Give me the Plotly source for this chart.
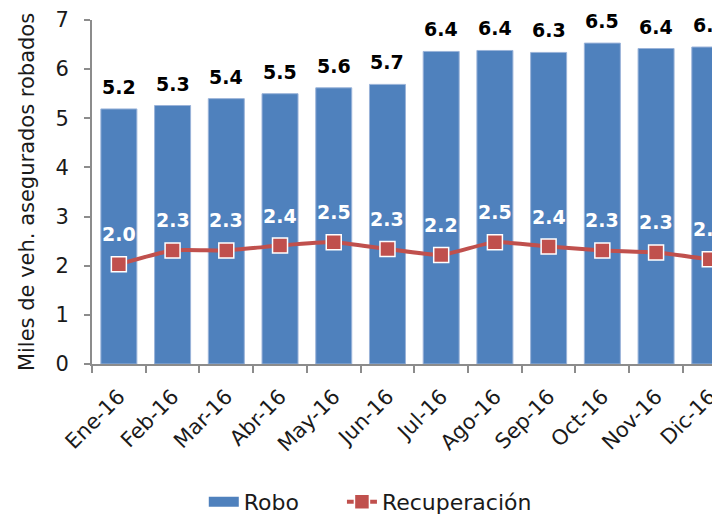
import plotly.graph_objects as go

categories = ["Ene-16", "Feb-16", "Mar-16", "Abr-16", "May-16", "Jun-16",
              "Jul-16", "Ago-16", "Sep-16", "Oct-16", "Nov-16", "Dic-16"]
robo = [5.19, 5.26, 5.40, 5.50, 5.62, 5.69, 6.36, 6.38, 6.34, 6.53, 6.42, 6.45]
recuperacion = [2.03, 2.31, 2.31, 2.41, 2.48, 2.34, 2.22, 2.48, 2.39, 2.31, 2.27, 2.13]

FONT = "DejaVu Sans"
BLUE = "#4F81BD"
RED = "#C0504D"
AXIS = "#8c8c8c"
TXT = "#1a1a1a"

fig = go.Figure()
fig.add_trace(go.Bar(
    x=categories, y=robo, name="Robo", legendgroup="robo", showlegend=False,
    marker=dict(color=BLUE, line=dict(color="#9ab3d9", width=1)),
))
# legend swatch for Robo (wide rectangle, like the reference)
fig.add_trace(go.Scatter(
    x=[None], y=[None], name="Robo", legendgroup="robo", mode="lines",
    line=dict(color=BLUE, width=13), legend="legend",
))
fig.add_trace(go.Scatter(
    x=categories, y=recuperacion, name="Recuperación",
    mode="lines+markers",
    line=dict(color=RED, width=4, shape="spline", smoothing=0.5),
    marker=dict(symbol="square", size=15, color=RED, line=dict(color="white", width=1.5)),
    cliponaxis=False, legend="legend2",
))

annotations = []
for c, v in zip(categories, robo):
    annotations.append(dict(x=c, y=v, text=f"<b>{v:.1f}</b>", showarrow=False,
                            yshift=22, font=dict(family=FONT, size=19, color="black")))
for c, v in zip(categories, recuperacion):
    annotations.append(dict(x=c, y=v, text=f"<b>{v:.1f}</b>", showarrow=False,
                            yshift=30, font=dict(family=FONT, size=19, color="white")))

legend_style = dict(orientation="h", xanchor="left", y=-0.401, yanchor="middle",
                    font=dict(family=FONT, size=22, color=TXT), bgcolor="rgba(0,0,0,0)")

fig.update_layout(
    width=712, height=508,
    margin=dict(l=84, r=0, t=12, b=152, autoexpand=False),
    paper_bgcolor="white", plot_bgcolor="white",
    font=dict(family=FONT, size=21, color=TXT),
    bargap=0.33,
    showlegend=True,
    legend=dict(x=0.178, **legend_style),
    legend2=dict(x=0.398, **legend_style),
    annotations=annotations,
)
fig.update_xaxes(
    type="category", range=[-0.5, 11.19],
    showline=True, linecolor=AXIS, linewidth=2,
    ticks="outside", tickson="boundaries", ticklen=7, tickcolor=AXIS, tickwidth=2,
    tickangle=-45, ticklabelstandoff=10,
    tickfont=dict(family=FONT, size=21, color=TXT),
    showgrid=False,
)
fig.update_yaxes(
    range=[0, 7], dtick=1,
    showline=True, linecolor=AXIS, linewidth=2,
    ticks="outside", ticklen=6, tickcolor=AXIS, tickwidth=2,
    ticklabelstandoff=11,
    tickfont=dict(family=FONT, size=21, color=TXT),
    showgrid=False, zeroline=False,
    title=dict(text="Miles de veh. asegurados robados", standoff=15,
               font=dict(family=FONT, size=21, color=TXT)),
)

fig.write_html("out.html")
